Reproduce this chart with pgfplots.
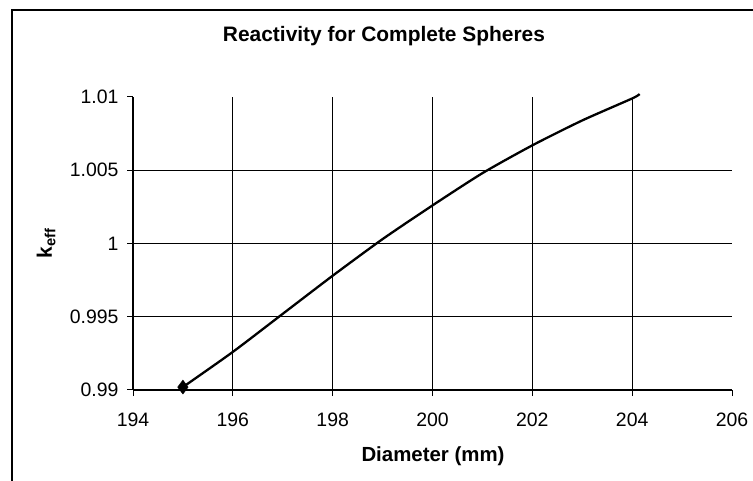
\documentclass[border=0pt]{standalone}
\usepackage{fontspec}
\setmainfont{Liberation Sans}
\usepackage{pgfplots}
\pgfplotsset{compat=1.18}
\begin{document}
\begin{tikzpicture}
\useasboundingbox (0,0) rectangle (753bp,481bp);
\draw[line width=1.3bp] (12bp,0) -- (12bp,471bp) -- (753bp,471bp);
\begin{axis}[
  at={(133bp,91bp)}, anchor=south west,
  scale only axis, width=599bp, height=293bp,
  xmin=194, xmax=206, ymin=0.99, ymax=1.01,
  axis x line*=bottom, axis y line*=left,
  axis line style={-, line width=1.1bp},
  xtick={194,196,...,206},
  ytick={0.99,0.995,1,1.005,1.01},
  yticklabels={0.99,0.995,1,1.005,1.01},
  xticklabels={194,196,198,200,202,204,206},
  tick align=outside, major tick length=6bp,
  tick style={black, line width=1bp},
  extra x ticks={196,198,200,202,204},
  extra x tick labels={},
  extra x tick style={xmajorgrids=true, major tick length=0pt},
  extra y ticks={0.995,1,1.005},
  extra y tick labels={},
  extra y tick style={ymajorgrids=true, major tick length=0pt},
  major grid style={black, line width=1.1bp},
  /pgf/number format/assume math mode=true,
  tick label style={font=\fontsize{19.5}{22}\selectfont},
  xticklabel style={yshift=-13bp},
  yticklabel style={xshift=-5bp},
  clip=false,
]
\addplot[black, line width=2.3bp, mark=none, smooth, tension=0.4] coordinates {
(195,0.9902) (196,0.9926) (197,0.9952) (198,0.9978) (199,1.0003) (200,1.0026)
(201,1.0048) (202,1.0067) (203,1.0084) (204,1.0099) (204.15,1.0102)
};
\addplot[black, only marks, mark=diamond*, mark size=7bp] coordinates {(195,0.9902)};
\end{axis}
\node[font=\bfseries\fontsize{21}{24}\selectfont] at (384bp,445bp) {Reactivity for Complete Spheres};
\node[font=\bfseries\fontsize{20.5}{24}\selectfont] at (433bp,25bp) {Diameter (mm)};
\node[font=\bfseries\fontsize{21}{24}\selectfont, rotate=90] at (46bp,238bp) {k\textsubscript{eff}};
\end{tikzpicture}
\end{document}
